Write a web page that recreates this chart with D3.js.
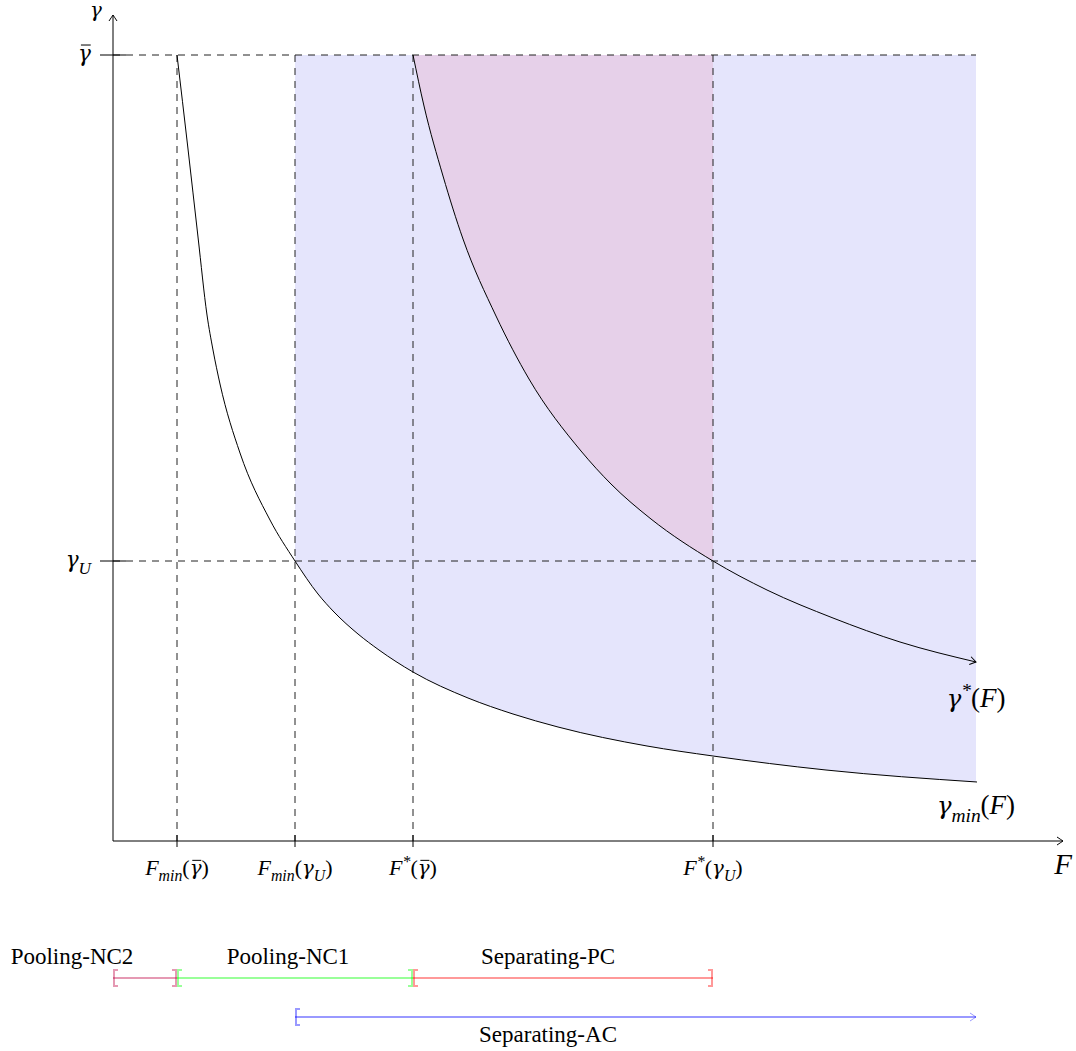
<!DOCTYPE html>
<html>
<head>
<meta charset="utf-8">
<script src="https://cdn.jsdelivr.net/npm/d3@7"></script>
<style>
  html, body { margin: 0; padding: 0; background: #fff; }
  svg text { font-family: "Liberation Serif", "DejaVu Serif", serif; fill: #000; }
</style>
</head>
<body>
<div id="chart"></div>
<script>
// Reference values (F on the horizontal axis, gamma on the vertical one)
const fTicks = [0.64, 1.82, 3.0, 6.0];
const fTickLabels = [
  [["F", "i"], ["min", "sub"], ["(", "r"], ["γ", "gbar"], [")", "r"]],
  [["F", "i"], ["min", "sub"], ["(", "r"], ["γ", "g"], ["U", "sub"], [")", "r"]],
  [["F", "i"], ["*", "sup"], ["(", "r"], ["γ", "gbar"], [")", "r"]],
  [["F", "i"], ["*", "sup"], ["(", "r"], ["γ", "g"], ["U", "sub"], [")", "r"]]
];
const gammaTicks = [7.86, 2.80];
const gammaTickLabels = [
  [["γ", "gbar"]],
  [["γ", "g"], ["U", "sub"]]
];
const fEnd = 8.63;

// gamma*(F)
const gammaStarF = [3.00, 3.11, 3.30, 3.50, 3.83, 4.16, 4.68, 4.98, 5.38, 6.00, 6.54, 7.20, 7.87, 8.63];
const gammaStarG = [7.86, 7.35, 6.65, 6.02, 5.25, 4.62, 3.90, 3.57, 3.22, 2.80, 2.51, 2.23, 1.99, 1.79];

// gamma_min(F)
const gammaMinF = [0.64, 0.75, 0.85, 0.94, 1.00, 1.07, 1.27, 1.57, 1.82, 2.05, 2.21, 2.45, 2.66, 3.00, 3.55, 4.00, 4.45, 5.34, 6.00, 7.13, 8.64];
const gammaMinG = [7.86, 6.92, 6.04, 5.26, 4.91, 4.57, 3.88, 3.21, 2.80, 2.47, 2.29, 2.07, 1.91, 1.69, 1.43, 1.27, 1.14, 0.95, 0.85, 0.71, 0.59];

// regimes below the chart
const intervalNames = ["Pooling-NC2", "Pooling-NC1", "Separating-PC", "Separating-AC"];
const intervalStart = [0, 0.64, 3.0, 1.82];
const intervalEnd = [0.64, 3.0, 6.0, 8.63];
const intervalOpen = [false, false, false, true];
const intervalRow = [0, 0, 0, 1];
const intervalLabelF = [-0.41, 1.75, 4.35, 4.35];
const intervalColors = ["rgb(191,0,64)", "rgb(0,255,0)", "rgb(255,0,0)", "rgb(0,0,255)"];

const width = 1076, height = 1051;

const svg = d3.select("#chart").append("svg")
  .attr("width", width)
  .attr("height", height);

const x = d3.scaleLinear().domain([0, 9.5]).range([113, 1063]);
const y = d3.scaleLinear().domain([0, 8.26]).range([841, 15]);

// arrow heads
const defs = svg.append("defs");
function arrow(id, color) {
  defs.append("marker")
    .attr("id", id)
    .attr("viewBox", "-8 -5 10 10")
    .attr("refX", 0).attr("refY", 0)
    .attr("markerWidth", 10).attr("markerHeight", 10)
    .attr("markerUnits", "userSpaceOnUse")
    .attr("orient", "auto")
    .append("path")
    .attr("d", "M-6,-4 Q-1.5,-1 0,0 Q-1.5,1 -6,4")
    .attr("fill", "none")
    .attr("stroke", color)
    .attr("stroke-width", 1);
}
arrow("arrBlack", "#000");
arrow("arrBlue", "rgba(0,0,255,0.4)");

defs.append("clipPath").attr("id", "clipBlue")
  .append("rect")
  .attr("x", x(fTicks[1])).attr("y", 0)
  .attr("width", x(fEnd) - x(fTicks[1])).attr("height", height);
defs.append("clipPath").attr("id", "clipRed")
  .append("rect")
  .attr("x", x(fTicks[2])).attr("y", 0)
  .attr("width", x(fTicks[3]) - x(fTicks[2])).attr("height", height);

const minPts = gammaMinF.map((f, i) => [f, gammaMinG[i]]);
const starPts = gammaStarF.map((f, i) => [f, gammaStarG[i]]);

const line = d3.line()
  .x(d => x(d[0])).y(d => y(d[1]))
  .curve(d3.curveMonotoneX);
const area = d3.area()
  .x(d => x(d[0])).y0(y(gammaTicks[0])).y1(d => y(d[1]))
  .curve(d3.curveMonotoneX);

// shaded regions
svg.append("path")
  .datum(minPts)
  .attr("d", area)
  .attr("fill", "rgb(229,229,252)")
  .attr("clip-path", "url(#clipBlue)");
svg.append("path")
  .datum(starPts)
  .attr("d", area)
  .attr("fill", "rgb(230,208,233)")
  .attr("clip-path", "url(#clipRed)");

// dashed guides
const dash = svg.append("g")
  .attr("stroke", "#222")
  .attr("stroke-width", 1)
  .attr("stroke-dasharray", "7,6")
  .attr("fill", "none");
gammaTicks.forEach(g => {
  dash.append("line")
    .attr("x1", x(0)).attr("x2", x(fEnd))
    .attr("y1", y(g)).attr("y2", y(g));
});
fTicks.forEach(f => {
  dash.append("line")
    .attr("x1", x(f)).attr("x2", x(f))
    .attr("y1", y(gammaTicks[0])).attr("y2", y(0));
});

// curves
svg.append("path")
  .datum(minPts)
  .attr("d", line)
  .attr("fill", "none")
  .attr("stroke", "#000")
  .attr("stroke-width", 1);
svg.append("path")
  .datum(starPts)
  .attr("d", line)
  .attr("fill", "none")
  .attr("stroke", "#000")
  .attr("stroke-width", 1)
  .attr("marker-end", "url(#arrBlack)");

// axes
svg.append("line")
  .attr("x1", x(0)).attr("x2", x(9.5))
  .attr("y1", y(0)).attr("y2", y(0))
  .attr("stroke", "#000").attr("marker-end", "url(#arrBlack)");
svg.append("line")
  .attr("x1", x(0)).attr("x2", x(0))
  .attr("y1", y(0)).attr("y2", y(8.26))
  .attr("stroke", "#000").attr("marker-end", "url(#arrBlack)");

// rich label helper: segments of [text, style]
function richText(g, segs, px, py, size, anchor) {
  const t = g.append("text")
    .attr("x", px).attr("y", py)
    .attr("text-anchor", anchor)
    .attr("font-size", size);
  let shift = 0, idx = 0;
  const bars = [];
  segs.forEach(([s, st]) => {
    let target = 0, fs = size;
    if (st === "sub") { target = size * 0.28; fs = size * 0.72; }
    if (st === "sup") { target = -size * 0.38; fs = size * 0.72; }
    const greek = st === "g" || st === "gbar";
    if (greek) fs = size * 0.9;
    const ts = t.append("tspan")
      .attr("dy", target - shift)
      .attr("font-size", fs)
      .attr("font-style", st === "r" ? "normal" : "italic")
      .text(s);
    if (greek) ts.attr("font-family", "DejaVu Serif").attr("font-weight", 300);
    if (st === "gbar") bars.push({ idx, fs, base: py + target });
    idx += s.length;
    shift = target;
  });
  bars.forEach(b => {
    const e = t.node().getExtentOfChar(b.idx);
    g.append("line")
      .attr("x1", e.x + e.width * 0.22).attr("x2", e.x + e.width * 0.98)
      .attr("y1", b.base - b.fs * 0.74).attr("y2", b.base - b.fs * 0.74)
      .attr("stroke", "#000").attr("stroke-width", 1);
  });
  return t;
}

// ticks and tick labels
fTicks.forEach((f, i) => {
  svg.append("line")
    .attr("x1", x(f)).attr("x2", x(f))
    .attr("y1", y(0) - 6).attr("y2", y(0) + 6)
    .attr("stroke", "#000");
  richText(svg, fTickLabels[i], x(f), y(0) + 34, 22, "middle");
});
gammaTicks.forEach((g, i) => {
  svg.append("line")
    .attr("x1", x(0) - 13).attr("x2", x(0) + 13)
    .attr("y1", y(g)).attr("y2", y(g))
    .attr("stroke", "#000");
  richText(svg, gammaTickLabels[i], x(0) - 22, y(g) + 6, 24, "end");
});

// axis names
richText(svg, [["γ", "g"]], x(0) - 17, y(8.26) + 2, 22, "middle");
richText(svg, [["F", "i"]], x(9.5), y(0) + 33, 29, "middle");

// curve names
richText(svg, [["γ", "g"], ["*", "sup"], ["(", "r"], ["F", "i"], [")", "r"]],
  x(fEnd), y(gammaStarG[gammaStarG.length - 1]) + 45, 27, "middle");
richText(svg, [["γ", "g"], ["min", "sub"], ["(", "r"], ["F", "i"], [")", "r"]],
  x(fEnd), y(gammaMinG[gammaMinG.length - 1]) + 32, 27, "middle");

// regime intervals
const rowY = [978, 1017];
intervalNames.forEach((name, i) => {
  const yy = rowY[intervalRow[i]];
  const x0 = x(intervalStart[i]), x1 = x(intervalEnd[i]);
  const g = svg.append("g")
    .attr("stroke", intervalColors[i])
    .attr("stroke-opacity", 0.4)
    .attr("stroke-width", 2)
    .attr("fill", "none");
  g.append("line")
    .attr("x1", x0).attr("x2", x1)
    .attr("y1", yy).attr("y2", yy)
    .attr("marker-end", intervalOpen[i] ? "url(#arrBlue)" : null);
  g.append("path")
    .attr("d", `M${x0 + 5},${yy - 8}H${x0 + 1}V${yy + 8}H${x0 + 5}`);
  if (!intervalOpen[i]) {
    g.append("path")
      .attr("d", `M${x1 - 5},${yy - 8}H${x1 - 1}V${yy + 8}H${x1 - 5}`);
  }
  const ly = intervalRow[i] === 0 ? yy - 14 : yy + 25;
  svg.append("text")
    .attr("x", x(intervalLabelF[i])).attr("y", ly)
    .attr("text-anchor", "middle")
    .attr("font-size", 23)
    .text(name);
});
</script>
</body>
</html>
